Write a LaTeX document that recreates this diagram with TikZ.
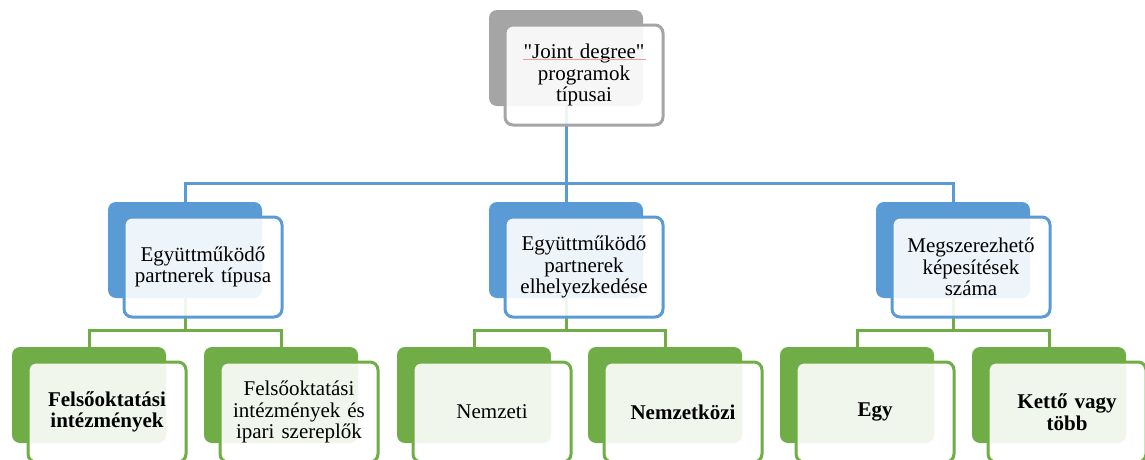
\documentclass[tikz,border=0pt]{standalone}
\usepackage{fontspec}
\setmainfont{Liberation Serif}[Ligatures=TeXOff]
\usetikzlibrary{calc}
\definecolor{accblue}{HTML}{5B9BD5}
\definecolor{accgreen}{HTML}{70AD47}
\definecolor{accgray}{HTML}{A5A5A5}
\definecolor{spellred}{HTML}{EE9A9A}
\tikzset{
  backbox/.style={rectangle, rounded corners=8pt, minimum width=154pt,
    minimum height=96pt, inner sep=0pt, fill=#1},
  frontbox/.style={rectangle, rounded corners=8pt, minimum width=158pt,
    minimum height=100pt, inner sep=2pt, draw=#1, line width=3pt,
    fill=white, fill opacity=0.9, draw opacity=1, text opacity=1, align=center,
    text width=150pt, font=\fontsize{21}{21.5}\selectfont},
  boldtext/.style={font=\fontsize{21}{21.5}\selectfont\bfseries},
  link/.style={draw=#1, line width=3pt},
}
\begin{document}
\begin{tikzpicture}[x=1pt,y=-1pt]
\useasboundingbox (0,0) rectangle (1145,459);
\clip (0,0) rectangle (1145,459);

% back plates
\node[backbox=accgray]  (btop) at (566,58) {};
\node[backbox=accblue]  (bA) at (185,250) {};
\node[backbox=accblue]  (bB) at (566,250) {};
\node[backbox=accblue]  (bC) at (953,250) {};
\node[backbox=accgreen] (bA1) at (89,395) {};
\node[backbox=accgreen] (bA2) at (281,395) {};
\node[backbox=accgreen] (bB1) at (474,395) {};
\node[backbox=accgreen] (bB2) at (665,395) {};
\node[backbox=accgreen] (bC1) at (857,395) {};
\node[backbox=accgreen] (bC2) at (1049,395) {};

% first level connectors
\path (btop.south) ++(0,77) coordinate (busT);
\draw[link=accblue] (btop.south) -- (busT);
\draw[link=accblue] (bA.north) |- (busT) -| (bC.north);
\draw[link=accblue] (busT) -- (bB.north);

% second level connectors
\foreach \p in {A,B,C}{
  \path (b\p.south) ++(0,32) coordinate (bus\p);
  \draw[link=accgreen] (b\p.south) -- (bus\p);
  \draw[link=accgreen] (b\p1.north) |- (bus\p) -| (b\p2.north);
}

% front cards with the texts
\node[frontbox=accgray] (ftop) at ($(btop)+(18,17)$)
  {"Joint degree"\\programok\\típusai};
\draw[draw=spellred, line width=0.8pt] ($(ftop.center)+(-61,-16)$) -- ($(ftop.center)+(62,-16)$);

\node[frontbox=accblue] (fA) at ($(bA)+(18,17)$) {Együttműködő\\partnerek típusa};
\node[frontbox=accblue] (fB) at ($(bB)+(18,17)$) {Együttműködő\\partnerek\\elhelyezkedése};
\node[frontbox=accblue] (fC) at ($(bC)+(18,17)$) {Megszerezhető\\képesítések\\száma};

\node[frontbox=accgreen, boldtext] (fA1) at ($(bA1)+(18,17)$) {Felsőoktatási\\intézmények};
\node[frontbox=accgreen] (fA2) at ($(bA2)+(18,17)$) {Felsőoktatási\\intézmények és\\ipari szereplők};
\node[frontbox=accgreen] (fB1) at ($(bB1)+(18,17)$) {Nemzeti};
\node[frontbox=accgreen, boldtext] (fB2) at ($(bB2)+(18,17)$) {Nemzetközi};
\node[frontbox=accgreen, boldtext] (fC1) at ($(bC1)+(18,17)$) {Egy};
\node[frontbox=accgreen, boldtext] (fC2) at ($(bC2)+(18,17)$) {Kettő vagy\\több};
\end{tikzpicture}
\end{document}
